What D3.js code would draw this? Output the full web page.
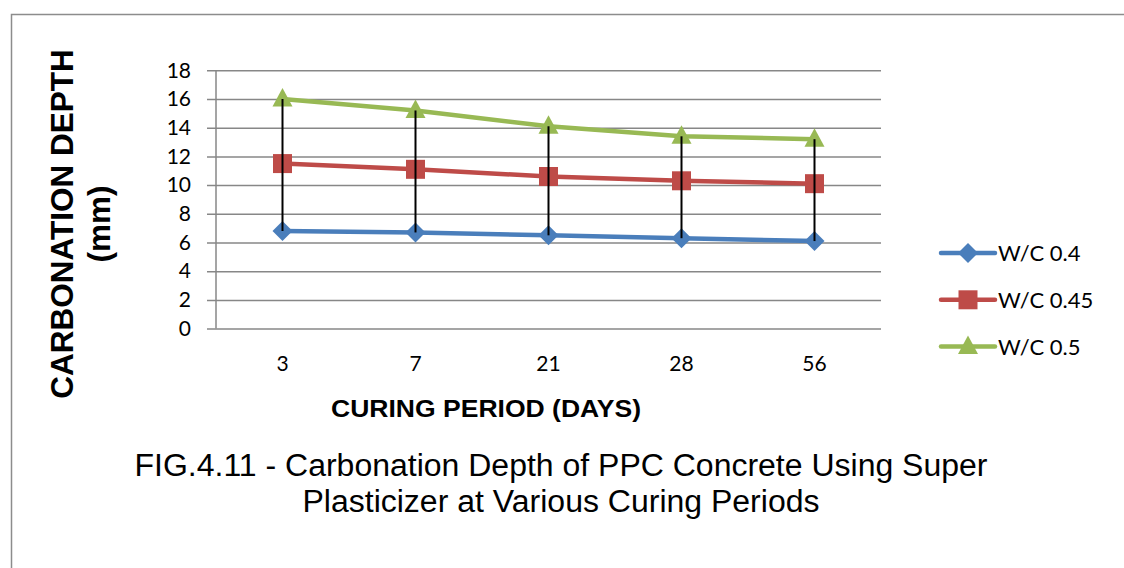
<!DOCTYPE html>
<html>
<head>
<meta charset="utf-8">
<script src="https://cdn.jsdelivr.net/npm/d3@7"></script>
<style>
  body { margin: 0; background: #fff; }
  svg { display: block; }
</style>
</head>
<body>
<div id="chart"></div>
<script>
// curing periods (days) and carbonation depth (mm)
const categories = ['3', '7', '21', '28', '56'];
const wc04 = [6.8, 6.7, 6.5, 6.3, 6.1];
const wc045 = [11.5, 11.1, 10.6, 10.3, 10.1];
const wc05 = [16.0, 15.2, 14.1, 13.4, 13.2];
const yTicks = [0, 2, 4, 6, 8, 10, 12, 14, 16, 18];

const series = [
  { name: 'W/C 0.4', values: wc04, color: '#4A7EBB', marker: 'diamond' },
  { name: 'W/C 0.45', values: wc045, color: '#BE4B48', marker: 'square' },
  { name: 'W/C 0.5', values: wc05, color: '#98B954', marker: 'triangle' }
];

const width = 1124, height = 568;
const plot = { left: 216, right: 881, top: 70.3, bottom: 328.6 };
const tickFont = 'Lato, "Open Sans", sans-serif';
const titleFont = '"Liberation Sans", Arial, sans-serif';

const svg = d3.select('#chart').append('svg')
  .attr('width', width)
  .attr('height', height);

// outer frame
svg.append('rect')
  .attr('x', 11.5).attr('y', 14.5)
  .attr('width', 1200).attr('height', 600)
  .attr('fill', 'none')
  .attr('stroke', '#8c8c8c')
  .attr('stroke-width', 1.5);

const x = d3.scaleBand().domain(categories).range([plot.left, plot.right]);
const y = d3.scaleLinear().domain([0, 18]).range([plot.bottom, plot.top]);

// gridlines + y axis
const yAxis = svg.append('g')
  .attr('transform', `translate(${plot.left},0)`)
  .call(d3.axisLeft(y).tickValues(yTicks)
    .tickSizeInner(-(plot.right - plot.left)).tickSizeOuter(0));
yAxis.select('.domain').remove();
yAxis.selectAll('.tick line')
  .attr('x1', -9)
  .attr('stroke', '#878787')
  .attr('stroke-width', 1.5);
yAxis.selectAll('.tick text')
  .attr('x', -25)
  .style('font-family', tickFont)
  .style('font-size', '21px')
  .attr('fill', '#000');

// vertical axis line
svg.append('line')
  .attr('x1', plot.left).attr('x2', plot.left)
  .attr('y1', plot.top).attr('y2', plot.bottom)
  .attr('stroke', '#878787').attr('stroke-width', 1.5);

// x axis labels
const xAxis = svg.append('g')
  .attr('transform', `translate(0,${plot.bottom})`)
  .call(d3.axisBottom(x).tickSize(0).tickPadding(27));
xAxis.select('.domain').remove();
xAxis.selectAll('.tick text')
  .style('font-family', tickFont)
  .style('font-size', '21px')
  .attr('fill', '#000');

const cx = d => x(d) + x.bandwidth() / 2;

const line = d3.line()
  .x((d, i) => cx(categories[i]))
  .y(d => y(d));

// marker shapes: ~20px diamond, 19px square, 20x18 triangle
const markerPath = {
  diamond: 'M0,-10L10,0L0,10L-10,0Z',
  square: 'M-9.5,-9.5H9.5V9.5H-9.5Z',
  triangle: 'M0,-11L10,7.5H-10Z'
};

series.forEach(s => {
  svg.append('path')
    .datum(s.values)
    .attr('d', line)
    .attr('fill', 'none')
    .attr('stroke', s.color)
    .attr('stroke-width', 4.5)
    .attr('stroke-linejoin', 'round');
});

series.forEach(s => {
  svg.append('g')
    .selectAll('path')
    .data(s.values)
    .join('path')
    .attr('transform', (d, i) => `translate(${cx(categories[i])},${y(d)})`)
    .attr('d', markerPath[s.marker])
    .attr('fill', s.color);
});

// high-low lines, on top of markers
svg.append('g')
  .selectAll('line')
  .data(categories)
  .join('line')
  .attr('x1', cx).attr('x2', cx)
  .attr('y1', (d, i) => y(d3.max(series, s => s.values[i])))
  .attr('y2', (d, i) => y(d3.min(series, s => s.values[i])))
  .attr('stroke', '#000')
  .attr('stroke-width', 2);

// legend
const legend = svg.append('g').attr('transform', 'translate(940,253)');
series.forEach((s, i) => {
  const g = legend.append('g').attr('transform', `translate(0,${i * 46.8})`);
  g.append('line')
    .attr('x1', 1).attr('x2', 55)
    .attr('stroke', s.color).attr('stroke-width', 4.5)
    .attr('stroke-linecap', 'round');
  g.append('path')
    .attr('transform', 'translate(28,0)')
    .attr('d', markerPath[s.marker])
    .attr('fill', s.color);
  g.append('text')
    .attr('x', 58).attr('y', 8)
    .style('font-family', tickFont)
    .style('font-size', '22px')
    .text(s.name);
});

// axis titles
svg.append('text')
  .attr('x', 486).attr('y', 417)
  .attr('text-anchor', 'middle')
  .style('font-family', titleFont)
  .style('font-weight', 'bold')
  .style('font-size', '23.5px')
  .attr('textLength', 310).attr('lengthAdjust', 'spacingAndGlyphs')
  .text('CURING PERIOD (DAYS)');

const yTitle = svg.append('g').attr('transform', 'translate(0,224) rotate(-90)');
yTitle.append('text')
  .attr('x', 0).attr('y', 73)
  .attr('text-anchor', 'middle')
  .style('font-family', titleFont)
  .style('font-weight', 'bold')
  .style('font-size', '31.5px')
  .text('CARBONATION DEPTH');
yTitle.append('text')
  .attr('x', 0).attr('y', 110)
  .attr('text-anchor', 'middle')
  .style('font-family', titleFont)
  .style('font-weight', 'bold')
  .style('font-size', '31.5px')
  .text('(mm)');

// figure caption
const caption = ['FIG.4.11 - Carbonation Depth of PPC Concrete Using Super', 'Plasticizer at Various Curing Periods'];
const captionWidths = [853, 517];
svg.append('g')
  .selectAll('text')
  .data(caption)
  .join('text')
  .attr('x', 561)
  .attr('y', (d, i) => 476 + i * 36)
  .attr('text-anchor', 'middle')
  .attr('textLength', (d, i) => captionWidths[i])
  .attr('lengthAdjust', 'spacingAndGlyphs')
  .style('font-family', titleFont)
  .style('font-size', '31px')
  .text(d => d);
</script>
</body>
</html>
